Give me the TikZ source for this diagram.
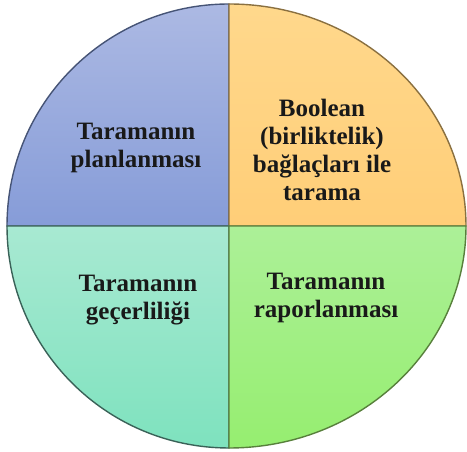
\documentclass[tikz,border=0pt]{standalone}
\usepackage{fontspec}
\newfontfamily\qserif{Liberation Serif}
\usepackage{tikz}
\usetikzlibrary{positioning}
\definecolor{qbluetop}{RGB}{172,185,227}
\definecolor{qbluebot}{RGB}{134,156,216}
\definecolor{qblueline}{RGB}{70,84,118}
\definecolor{qorangetop}{RGB}{255,216,140}
\definecolor{qorangebot}{RGB}{255,206,120}
\definecolor{qorangeline}{RGB}{138,112,64}
\definecolor{qtealtop}{RGB}{168,233,210}
\definecolor{qtealbot}{RGB}{126,226,190}
\definecolor{qtealline}{RGB}{58,98,88}
\definecolor{qgreentop}{RGB}{172,240,152}
\definecolor{qgreenbot}{RGB}{150,238,112}
\definecolor{qgreenline}{RGB}{88,128,60}
\tikzset{
  qsector/.style={line width=1.4pt},
  qlabel/.style={align=center, inner sep=0pt, text=black!90,
    font=\qserif\bfseries\fontsize{25}{28}\selectfont}
}

\begin{document}
\begin{tikzpicture}[x=1pt,y=1pt]
    \useasboundingbox (0,0) rectangle (467,452);
    \coordinate (c) at (229,226);

    % four quarters of the disc
    \shadedraw[qsector,draw=qblueline,top color=qbluetop,bottom color=qbluebot]
      (c) -- ++(-222,0) arc[start angle=180,end angle=90,x radius=222,y radius=222] -- cycle;
    \shadedraw[qsector,draw=qorangeline,top color=qorangetop,bottom color=qorangebot]
      (c) -- ++(0,222) arc[start angle=90,end angle=0,x radius=237,y radius=222] -- cycle;
    \shadedraw[qsector,draw=qtealline,top color=qtealtop,bottom color=qtealbot]
      (c) -- ++(0,-222) arc[start angle=270,end angle=180,x radius=222,y radius=222] -- cycle;
    \shadedraw[qsector,draw=qgreenline,top color=qgreentop,bottom color=qgreenbot]
      (c) -- ++(237,0) arc[start angle=0,end angle=-90,x radius=237,y radius=222] -- cycle;

    \node[qlabel] (plan) at (136,304) {Taramanın\\planlanması};
    \node[qlabel] (boolean) at (322,302) {Boolean\\(birliktelik)\\bağlaçları ile\\tarama};
    \node[qlabel] (valid) at (138,152) {Taramanın\\geçerliliği};
    \node[qlabel] (report) at (326,154) {Taramanın\\raporlanması};
  \end{tikzpicture}
\end{document}
